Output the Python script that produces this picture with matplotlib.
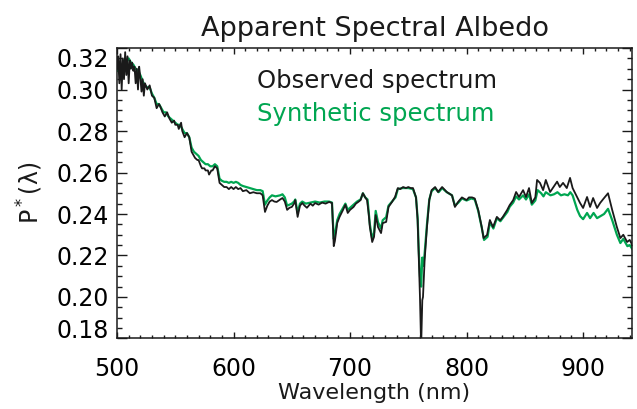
import matplotlib
matplotlib.use('Agg')
import matplotlib.pyplot as plt
from matplotlib.ticker import MultipleLocator

# Observed spectrum (black)
wl_obs = [500, 501, 502, 503, 504, 505, 506, 507, 508, 509, 510, 511, 512, 513, 514,
          515, 516, 517, 518, 519, 520, 521, 522, 523, 524, 526, 528, 530, 532, 534,
          536, 537, 539, 541, 543, 545, 547, 549, 550, 552, 553, 555, 556, 558, 560,
          562, 564, 566, 567, 569, 570, 572, 573, 575, 576, 578, 579, 581, 582, 584,
          586, 588, 590, 592, 594, 596, 598, 600, 602, 604, 606, 608, 611, 614, 617,
          620, 623, 625, 627, 629, 631, 633, 635, 637, 640, 642, 644, 646, 648, 650,
          652, 653, 655, 657, 659, 661, 663, 666, 668, 670, 673, 676, 679, 682, 684.5,
          686, 687, 689, 691, 694, 696, 698, 700, 703, 705, 707, 709, 711, 713, 714.6,
          716, 717, 719, 720.6, 722, 724, 726.6, 728, 731, 733, 736, 738.6, 741, 743,
          745.5, 748, 750, 752, 754, 756.6, 758, 759, 760, 761, 762, 762.6, 764, 766,
          768, 770, 773, 775.5, 779, 783, 787.5, 790, 792.7, 796, 800, 802, 804.7, 807,
          810, 813, 814.6, 817.6, 820, 822.7, 826, 828.8, 831, 834.8, 837, 840, 842.5,
          845, 848.5, 851, 853.6, 856, 859, 860.5, 863, 865.7, 868, 871.7, 874, 877.7,
          880, 882.8, 886, 888.8, 891, 894.8, 897.4, 900, 903.4, 906, 908.6, 912, 914.6,
          917, 921.4, 925, 929, 932, 934.5, 937.8, 940, 943]
p_obs = [0.310, 0.316, 0.303, 0.317, 0.300, 0.315, 0.305, 0.318, 0.307, 0.316, 0.303,
         0.314, 0.310, 0.313, 0.309, 0.311, 0.303, 0.310, 0.300, 0.311, 0.306, 0.299,
         0.305, 0.297, 0.303, 0.300, 0.302, 0.297, 0.296, 0.291, 0.293, 0.292, 0.289,
         0.287, 0.289, 0.286, 0.284, 0.285, 0.283, 0.283, 0.281, 0.284, 0.280, 0.277,
         0.279, 0.277, 0.270, 0.268, 0.267, 0.266, 0.266, 0.263, 0.262, 0.262, 0.261,
         0.261, 0.259, 0.261, 0.261, 0.263, 0.262, 0.255, 0.254, 0.253, 0.253, 0.252,
         0.253, 0.252, 0.253, 0.252, 0.2525, 0.251, 0.2515, 0.250, 0.2505, 0.250, 0.250,
         0.249, 0.241, 0.244, 0.246, 0.2467, 0.246, 0.2458, 0.247, 0.2477, 0.246, 0.242,
         0.243, 0.2434, 0.245, 0.2467, 0.2386, 0.244, 0.2453, 0.244, 0.243, 0.245, 0.244,
         0.2453, 0.2445, 0.2455, 0.245, 0.2458, 0.2453, 0.2245, 0.227, 0.2357, 0.2386,
         0.242, 0.2445, 0.2405, 0.242, 0.2434, 0.245, 0.2458, 0.2467, 0.250, 0.248,
         0.2467, 0.240, 0.2337, 0.2265, 0.229, 0.2395, 0.2337, 0.2308, 0.2356, 0.2362,
         0.2434, 0.2458, 0.2482, 0.2525, 0.252, 0.253, 0.2525, 0.253, 0.2525, 0.2525,
         0.248, 0.2371, 0.2178, 0.200, 0.176, 0.1985, 0.200, 0.2178, 0.2337, 0.2467,
         0.2515, 0.253, 0.2506, 0.253, 0.2506, 0.249, 0.2434, 0.2458, 0.248, 0.2467,
         0.248, 0.248, 0.2475, 0.2419, 0.2337, 0.2284, 0.2299, 0.2371, 0.2337, 0.2386,
         0.237, 0.2385, 0.2419, 0.2443, 0.2467, 0.2506, 0.2482, 0.2515, 0.2482, 0.2525,
         0.2453, 0.248, 0.2564, 0.255, 0.2515, 0.2564, 0.2506, 0.2525, 0.2556, 0.253,
         0.255, 0.2525, 0.2574, 0.2525, 0.2482, 0.2453, 0.2429, 0.2482, 0.2434, 0.2477,
         0.2429, 0.2453, 0.247, 0.250, 0.2419, 0.2337, 0.2284, 0.230, 0.2265, 0.2275,
         0.2242]

# Synthetic spectrum (green)
wl_syn = [500, 502, 504, 506, 508, 510, 512, 514, 516, 518, 520, 522, 524, 526, 528,
          530, 532, 534, 536, 538, 540, 542, 544, 546, 548, 550, 552, 554, 556, 558,
          560, 562, 564, 566, 568, 570, 572, 574, 576, 578, 580, 582, 584, 586, 588,
          590, 592, 594, 596, 598, 600, 602, 604, 606, 608, 611, 614, 617, 620, 623,
          625, 627, 629, 631, 633, 636, 640, 642, 644, 646, 648, 650, 652, 653, 655,
          657, 659, 662, 666, 670, 674, 678, 682, 684.5, 686, 687, 689, 691, 694, 696,
          698, 700, 703, 706, 709, 711, 713, 715, 716, 717, 719, 720.6, 722, 724, 726.6,
          728, 731, 733, 736, 739, 741, 745, 750, 754, 756.6, 758, 759, 760, 761, 762,
          763, 764, 766, 768, 770, 773, 776, 779, 783, 787.5, 790, 793, 796, 800, 804,
          807, 810, 813, 815, 818, 820, 823, 826, 829, 831, 835, 837, 840, 842.5, 845,
          848.5, 851, 853.6, 856, 859, 861, 864, 866, 868, 872, 875, 878, 881, 884, 887,
          889, 891, 895, 897.4, 900, 903.4, 906, 909, 912, 915, 918, 921.4, 925, 929,
          932, 934.5, 938, 940, 943]
p_syn = [0.309, 0.312, 0.311, 0.314, 0.313, 0.315, 0.313, 0.312, 0.310, 0.309, 0.307,
         0.304, 0.302, 0.301, 0.301, 0.298, 0.296, 0.293, 0.293, 0.291, 0.289, 0.289,
         0.287, 0.286, 0.285, 0.284, 0.283, 0.283, 0.281, 0.279, 0.279, 0.277, 0.272,
         0.270, 0.269, 0.268, 0.266, 0.265, 0.264, 0.264, 0.263, 0.263, 0.264, 0.263,
         0.257, 0.256, 0.2555, 0.2555, 0.255, 0.2555, 0.255, 0.2555, 0.255, 0.254,
         0.2535, 0.253, 0.2525, 0.252, 0.2515, 0.2515, 0.251, 0.2445, 0.2465, 0.248,
         0.249, 0.2485, 0.249, 0.2495, 0.248, 0.244, 0.2445, 0.245, 0.246, 0.247,
         0.2405, 0.245, 0.246, 0.245, 0.2455, 0.246, 0.2455, 0.246, 0.246, 0.2455,
         0.228, 0.230, 0.237, 0.240, 0.243, 0.245, 0.242, 0.243, 0.2445, 0.246, 0.247,
         0.250, 0.248, 0.247, 0.241, 0.235, 0.228, 0.231, 0.2415, 0.236, 0.233, 0.237,
         0.2385, 0.244, 0.246, 0.248, 0.252, 0.2525, 0.2525, 0.252, 0.248, 0.238, 0.222,
         0.210, 0.205, 0.219, 0.215, 0.221, 0.235, 0.247, 0.251, 0.2525, 0.2505, 0.2525,
         0.2505, 0.249, 0.244, 0.2455, 0.2475, 0.2465, 0.2475, 0.247, 0.2415, 0.2335,
         0.2275, 0.229, 0.236, 0.233, 0.238, 0.2365, 0.238, 0.241, 0.2435, 0.2455,
         0.2485, 0.247, 0.249, 0.247, 0.2495, 0.2445, 0.2465, 0.2515, 0.250, 0.2485,
         0.2505, 0.249, 0.2495, 0.2505, 0.249, 0.2495, 0.249, 0.2505, 0.249, 0.242,
         0.239, 0.2375, 0.2405, 0.238, 0.2405, 0.238, 0.239, 0.240, 0.2425, 0.237,
         0.230, 0.226, 0.228, 0.2245, 0.225, 0.2225]

x_ticks = [500, 600, 700, 800, 900]
y_ticks = [0.18, 0.20, 0.22, 0.24, 0.26, 0.28, 0.30, 0.32]

black = '#1a1a1a'
green = '#00a651'

plt.rcParams['font.family'] = ['DejaVu Sans']

fig = plt.figure(figsize=(6.37, 4.09), dpi=100)
ax = fig.add_axes([0.1837, 0.1724, 0.8085, 0.7102])

ax.plot(wl_syn, p_syn, color=green, linewidth=1.6)
ax.plot(wl_obs, p_obs, color=black, linewidth=1.3)

ax.set_xlim(500, 942)
ax.set_ylim(0.18, 0.32)
ax.set_xticks(x_ticks)
ax.set_yticks(y_ticks)
ax.set_yticklabels([f'{v:.2f}' for v in y_ticks])
ax.xaxis.set_minor_locator(MultipleLocator(10))
ax.yaxis.set_minor_locator(MultipleLocator(0.005))

ax.tick_params(axis='both', which='both', direction='in', top=True, right=True,
               color=black, width=1.0)
ax.tick_params(axis='y', which='major', length=7.5, pad=6, labelsize=17)
ax.tick_params(axis='y', which='minor', length=3.8)
ax.tick_params(axis='x', which='major', length=4, pad=13, labelsize=17)
ax.tick_params(axis='x', which='minor', length=2.2)
for s in ax.spines.values():
    s.set_linewidth(1.1)
    s.set_color(black)

# keep the end labels inside the frame like the original
yt = ax.yaxis.get_major_ticks()
yt[0].label1.set_verticalalignment('baseline')
yt[-1].label1.set_verticalalignment('top')

ax.set_title('Apparent Spectral Albedo', fontsize=19.5, pad=9, color=black)
ax.set_xlabel('Wavelength (nm)', fontsize=16, labelpad=2, color=black)
ax.set_ylabel('P$^*$(λ)', fontsize=17, labelpad=8, color=black)

ax.text(0.272, 0.862, 'Observed spectrum', transform=ax.transAxes,
        fontsize=17.5, color=black, va='baseline')
ax.text(0.272, 0.749, 'Synthetic spectrum', transform=ax.transAxes,
        fontsize=17.5, color=green, va='baseline')

plt.savefig('out.png', dpi=100)
